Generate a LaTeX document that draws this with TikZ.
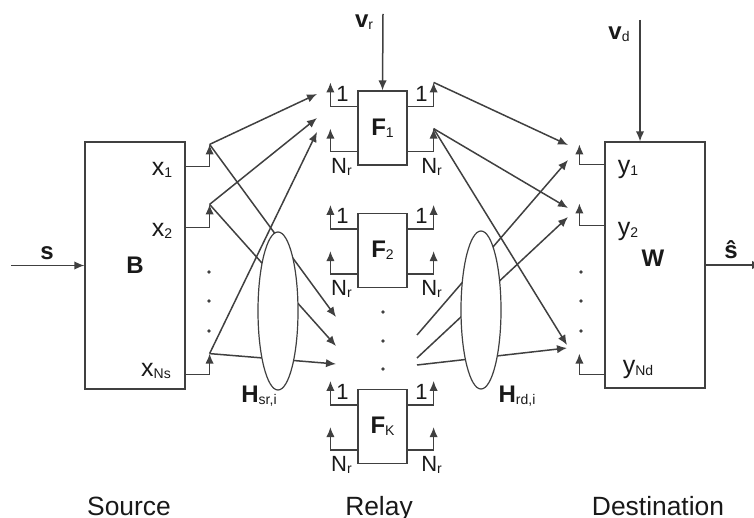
\documentclass[tikz,border=0pt]{standalone}
\usepackage{fontspec}
\setmainfont{Liberation Sans}
\usetikzlibrary{arrows.meta,calc,shapes.geometric}
\newcommand{\lo}[1]{\raisebox{-1pt}{\normalfont\fontsize{7}{8}\selectfont #1}}

\begin{document}
\begin{tikzpicture}[x=0.5pt,y=-0.5pt,line width=0.75pt,color=black!75,
  >={Latex[length=5pt,width=4.2pt]},
  blk/.style={draw,line width=0.6pt,inner sep=0pt,text=black!90,
    font=\fontsize{12}{14}\selectfont},
  chan/.style={ellipse,draw,fill=white,line width=0.6pt,inner sep=0pt,
    minimum width=20pt,minimum height=79pt},
  lbl/.style={inner sep=0pt,text=black!90,font=\fontsize{12.5}{14}\selectfont},
  portlbl/.style={inner sep=0pt,text=black!90,font=\fontsize{11}{13}\selectfont},
  boldlbl/.style={inner sep=0pt,text=black!90,font=\fontsize{12}{14}\selectfont},
  titlelbl/.style={inner sep=0pt,anchor=base,text=black!90,font=\fontsize{13.2}{15}\selectfont}]
  \useasboundingbox (0,0) rectangle (754,518);

  % source
  \node[blk,minimum width=50pt,minimum height=123.5pt] (B) at (135,265.5) {\textbf{B}};
  \coordinate (sin) at (11,265.5);
  \draw[->] (sin) -- (B.west);
  \node[boldlbl] (slbl) at (47,253) {\textbf{s}};
  \draw[->] ($(B.north east)+(0,25)$) -| ++(24,-22) coordinate (sx1);
  \draw[->] ($(B.north east)+(0,86)$) -| ++(24,-23) coordinate (sx2);
  \draw[->] ($(B.south east)+(0,-15)$) -| ++(24,-21) coordinate (sxN);
  \node[lbl] (x1) at (162,170) {x\lo{1}};
  \node[lbl] (x2) at (162,231) {x\lo{2}};
  \node[lbl] (xN) at (156,371) {x\lo{Ns}};
  \fill (209,272) circle (0.9pt);
  \fill (209,301) circle (0.9pt);
  \fill (209,331) circle (0.9pt);

  % relays
  \foreach \r/\yc in {1/128,2/250.5,K/426.5}{
    \node[blk,minimum width=24.5pt,minimum height=37pt] (F\r) at (382.5,\yc) {\textbf{F}\lo{\r}};
    \draw[->] ($(F\r.north west)+(0,16)$) -| ++(-27,-24) coordinate (F\r-l1);
    \draw[->] ($(F\r.south west)+(0,-14)$) -| ++(-27,-23) coordinate (F\r-lN);
    \draw[->] ($(F\r.north east)+(0,16)$) -| ++(26,-24) coordinate (F\r-r1);
    \draw[->] ($(F\r.south east)+(0,-14)$) -| ++(26,-23) coordinate (F\r-rN);
    \node[portlbl] (F\r-t1) at ($(F\r.north west)+(-15,3.5)$) {1};
    \node[portlbl] (F\r-t2) at ($(F\r.north east)+(14,3.5)$) {1};
    \node[portlbl] (F\r-t3) at ($(F\r.south west)+(-16,1)$) {N\lo{r}};
    \node[portlbl] (F\r-t4) at ($(F\r.south east)+(24,1)$) {N\lo{r}};
  }
  \fill (383,312) circle (0.9pt);
  \fill (383,341) circle (0.9pt);
  \fill (383,369) circle (0.9pt);
  \coordinate (vr) at (383,14);
  \draw[->] (vr) -- (F1.north);
  \node[boldlbl] (vrlbl) at (364,22) {\textbf{v}\lo{r}};

  % source -> relay
  \coordinate (r1a) at (317,94);
  \coordinate (r1b) at (317,118);
  \coordinate (r1c) at (317,132);
  \coordinate (rKa) at (336,317);
  \coordinate (rKb) at (336,346);
  \coordinate (rKc) at (336,364);
  \draw[->] (sx1) -- (r1a);
  \draw[->] (sx1) -- (rKa);
  \draw[->] (sx2) -- (r1b);
  \draw[->] (sx2) -- (rKb);
  \draw[->] (sxN) -- (r1c);
  \draw[->] (sxN) -- (rKc);
  \node[chan] (Hsr) at (278,311) {};
  \node[boldlbl] (Hsrlbl) at (259,396) {\textbf{H}\lo{sr,i}};

  % destination
  \node[blk,minimum width=50pt,minimum height=123pt] (W) at (655,265) {};
  \node[boldlbl] (Wlbl) at (653,258) {\textbf{W}};
  \draw[->] ($(W.north west)+(0,23)$) -| ++(-25,-20) coordinate (dy1);
  \draw[->] ($(W.north west)+(0,84)$) -| ++(-25,-22) coordinate (dy2);
  \draw[->] ($(W.south west)+(0,-14)$) -| ++(-25,-21) coordinate (dyN);
  \node[lbl] (y1) at (628,169) {y\lo{1}};
  \node[lbl] (y2) at (628,231) {y\lo{2}};
  \node[lbl] (yN) at (638,369) {y\lo{Nd}};
  \fill (581,272) circle (0.9pt);
  \fill (581,301) circle (0.9pt);
  \fill (581,331) circle (0.9pt);
  \coordinate (vd) at (640,20);
  \draw[->] (vd) -- (vd |- W.north);
  \node[boldlbl] (vdlbl) at (619,34) {\textbf{v}\lo{d}};
  \coordinate (sout) at (762,265);
  \draw[->] (W.east) -- (sout);
  \node[boldlbl] (shat) at (731,250) {\textbf{\^{s}}};

  % relay -> destination
  \coordinate (rKd) at (417,335);
  \coordinate (rKe) at (417,358);
  \coordinate (rKf) at (417,365);
  \coordinate (d1a) at (568,145);
  \coordinate (d1b) at (568,160);
  \coordinate (d2a) at (568,208);
  \coordinate (d2b) at (568,217);
  \coordinate (dNa) at (567,345);
  \coordinate (dNb) at (567,348);
  \draw[->] (F1-r1) -- (d1a);
  \draw[->] (F1-rN) -- (d2a);
  \draw[->] (F1-rN) -- (dNa);
  \draw[->] (rKd) -- (d1b);
  \draw[->] (rKe) -- (d2b);
  \draw[->] (rKf) -- (dNb);
  \node[chan] (Hrd) at (481,310) {};
  \node[boldlbl] (Hrdlbl) at (517,396) {\textbf{H}\lo{rd,i}};

  \node[titlelbl] (src) at (129,515) {Source};
  \node[titlelbl] (rly) at (379,515) {Relay};
  \node[titlelbl] (dst) at (658,515) {Destination};
\end{tikzpicture}
\end{document}
